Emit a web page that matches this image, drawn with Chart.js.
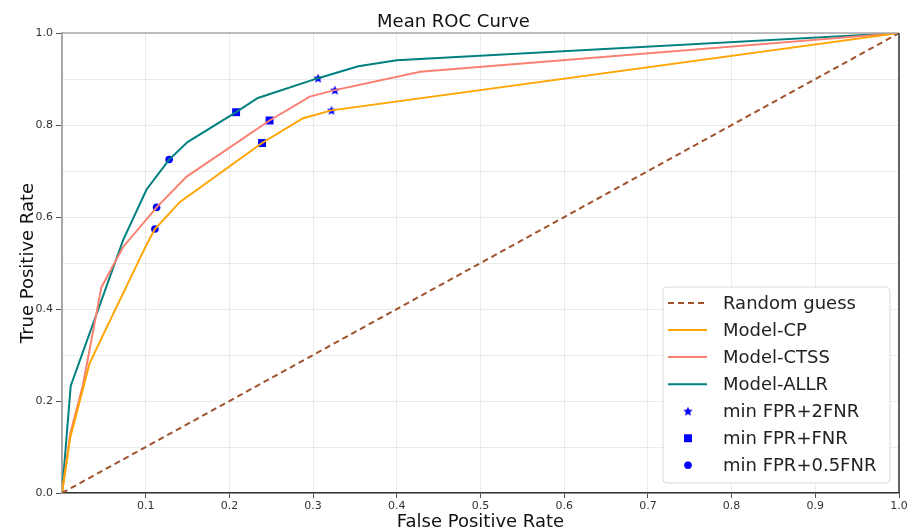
<!DOCTYPE html>
<html>
<head>
<meta charset="utf-8">
<title>Mean ROC Curve</title>
<script src="https://cdn.jsdelivr.net/npm/chart.js@4.4.0/dist/chart.umd.min.js"></script>
<style>
    html, body { margin: 0; padding: 0; background: #fff; }
    #wrap { width: 907px; height: 531px; }
</style>
</head>
<body>
<div id="wrap"><canvas id="roc" width="907" height="531"></canvas></div>
<script>
// ROC curves (false positive rate / true positive rate)
const guessFpr = [0, 1];
const guessTpr = [0, 1];
const cpFpr = [0, 0.01, 0.033, 0.051, 0.101, 0.111, 0.141, 0.239, 0.288, 0.322, 1];
const cpTpr = [0, 0.122, 0.282, 0.351, 0.54, 0.574, 0.633, 0.761, 0.815, 0.832, 1];
const ctssFpr = [0, 0.01, 0.025, 0.047, 0.073, 0.113, 0.149, 0.248, 0.296, 0.326, 0.428, 1];
const ctssTpr = [0, 0.13, 0.235, 0.447, 0.535, 0.621, 0.688, 0.81, 0.862, 0.876, 0.916, 1];
const allrFpr = [0, 0.0104, 0.073, 0.101, 0.128, 0.15, 0.208, 0.234, 0.306, 0.354, 0.4, 1];
const allrTpr = [0, 0.233, 0.55, 0.66, 0.725, 0.763, 0.828, 0.859, 0.902, 0.928, 0.941, 1];

// chosen operating points, order: CP, CTSS, ALLR
const twoFnrFpr = [0.322, 0.326, 0.306];
const twoFnrTpr = [0.832, 0.876, 0.902];
const oneFnrFpr = [0.239, 0.248, 0.208];
const oneFnrTpr = [0.761, 0.81, 0.828];
const halfFnrFpr = [0.111, 0.113, 0.128];
const halfFnrTpr = [0.574, 0.621, 0.725];

// tick labels
const xTickLabels = ['0.1', '0.2', '0.3', '0.4', '0.5', '0.6', '0.7', '0.8', '0.9', '1.0'];
const yTickLabels = ['0.0', '0.2', '0.4', '0.6', '0.8', '1.0'];

const FONT = 'DejaVu Sans';
Chart.defaults.font.family = FONT;
Chart.defaults.color = '#222';

function toPoints(xs, ys) {
    return xs.map((x, i) => ({ x: x, y: ys[i] }));
}

// filled five point star, like matplotlib's '*' marker
function makeStar(size, color) {
    const c = document.createElement('canvas');
    c.width = size;
    c.height = size;
    const g = c.getContext('2d');
    const cx = size / 2, cy = size / 2 + 0.4;
    const outer = size / 2, inner = outer * 0.45;
    g.beginPath();
    for (let i = 0; i < 10; i++) {
        const r = i % 2 ? inner : outer;
        const a = -Math.PI / 2 + i * Math.PI / 5;
        g.lineTo(cx + r * Math.cos(a), cy + r * Math.sin(a));
    }
    g.closePath();
    g.fillStyle = color;
    g.fill();
    return c;
}
const starImg = makeStar(10, '#0000ff');

// top and right spines
const frame = {
    id: 'frame',
    afterDatasetsDraw(chart) {
        const { ctx, chartArea: a } = chart;
        ctx.save();
        ctx.lineWidth = 1.5;
        ctx.strokeStyle = '#a8a8a8';
        ctx.beginPath();
        ctx.moveTo(a.left, a.top);
        ctx.lineTo(a.right, a.top);
        ctx.stroke();
        ctx.strokeStyle = '#333';
        ctx.beginPath();
        ctx.moveTo(a.right, a.top);
        ctx.lineTo(a.right, a.bottom);
        ctx.stroke();
        ctx.restore();
    }
};

// legend box in the lower right corner of the plot
const insideLegend = {
    id: 'insideLegend',
    afterDraw(chart) {
        const { ctx, chartArea: a } = chart;
        const w = 227, h = 196;
        const x0 = a.right - 9 - w, y0 = a.bottom - 10 - h;
        ctx.save();
        ctx.beginPath();
        ctx.roundRect(x0, y0, w, h, 4);
        ctx.fillStyle = 'rgba(255,255,255,0.85)';
        ctx.fill();
        ctx.strokeStyle = '#d9d9d9';
        ctx.lineWidth = 1;
        ctx.stroke();

        chart.data.datasets.forEach((ds, i) => {
            const cy = y0 + 16 + i * 27.05;
            const hx = x0 + 5;
            if (ds.showLine) {
                ctx.beginPath();
                ctx.setLineDash(ds.borderDash || []);
                ctx.strokeStyle = ds.borderColor;
                ctx.lineWidth = ds.borderWidth;
                ctx.moveTo(hx, cy);
                ctx.lineTo(hx + 39, cy);
                ctx.stroke();
                ctx.setLineDash([]);
            } else {
                ctx.fillStyle = ds.backgroundColor;
                Chart.helpers.drawPoint(ctx, {
                    pointStyle: ds.pointStyle,
                    radius: ds.pointRadius,
                    borderWidth: 0,
                    rotation: 0
                }, hx + 20, cy);
            }
            ctx.fillStyle = '#222';
            ctx.font = '18px ' + FONT;
            ctx.textBaseline = 'middle';
            ctx.textAlign = 'left';
            ctx.fillText(ds.label, x0 + 60, cy + 1);
        });
        ctx.restore();
    }
};

const lineSet = (label, xs, ys, color, dash) => ({
    label: label,
    data: toPoints(xs, ys),
    showLine: true,
    borderColor: color,
    backgroundColor: color,
    borderWidth: 2,
    borderDash: dash || [],
    pointRadius: 0,
    pointHoverRadius: 0,
    tension: 0
});

const markSet = (label, xs, ys, style, radius) => ({
    label: label,
    data: toPoints(xs, ys),
    showLine: false,
    pointStyle: style,
    pointRadius: radius,
    pointHoverRadius: radius,
    pointBorderWidth: 0,
    backgroundColor: '#0000ff',
    borderColor: '#0000ff'
});

new Chart(document.getElementById('roc').getContext('2d'), {
    type: 'scatter',
    data: {
        datasets: [
            lineSet('Random guess', guessFpr, guessTpr, '#a0522d', [6, 4]),
            lineSet('Model-CP', cpFpr, cpTpr, '#ffa500'),
            lineSet('Model-CTSS', ctssFpr, ctssTpr, '#fa8072'),
            lineSet('Model-ALLR', allrFpr, allrTpr, '#008080'),
            markSet('min FPR+2FNR', twoFnrFpr, twoFnrTpr, starImg, 5),
            markSet('min FPR+FNR', oneFnrFpr, oneFnrTpr, 'rect', 5.6),
            markSet('min FPR+0.5FNR', halfFnrFpr, halfFnrTpr, 'circle', 3.8)
        ]
    },
    options: {
        responsive: false,
        animation: false,
        devicePixelRatio: 1,
        layout: { padding: { left: 0, right: 0, top: 0, bottom: 0 } },
        plugins: {
            legend: { display: false },
            tooltip: { enabled: false },
            title: {
                display: true,
                text: 'Mean ROC Curve',
                color: '#111',
                font: { size: 18, weight: 'normal' },
                padding: { top: 11.5, bottom: 0 }
            }
        },
        scales: {
            x: {
                type: 'linear',
                min: 0,
                max: 1,
                ticks: {
                    stepSize: 0.1,
                    padding: 2,
                    font: { size: 11 },
                    color: '#333',
                    maxRotation: 0,
                    callback: (v) => xTickLabels.includes(v.toFixed(1)) ? v.toFixed(1) : ''
                },
                grid: {
                    color: 'rgba(0,0,0,0.08)',
                    tickLength: 5,
                    tickColor: (c) => c.tick && c.tick.value > 0 ? '#555' : 'transparent'
                },
                border: { color: '#333', width: 1.5 },
                title: {
                    display: true,
                    text: 'False Positive Rate',
                    color: '#111',
                    font: { size: 18, lineHeight: 1 },
                    padding: { top: 0, bottom: 0 }
                },
                afterFit: (s) => {
                    s.height = 38;
                    s.paddingRight = 8;
                }
            },
            y: {
                type: 'linear',
                min: 0,
                max: 1,
                ticks: {
                    stepSize: 0.1,
                    padding: 3,
                    font: { size: 11 },
                    color: '#333',
                    callback: (v) => yTickLabels.includes(v.toFixed(1)) ? v.toFixed(1) : ''
                },
                grid: {
                    color: 'rgba(0,0,0,0.08)',
                    tickLength: 6,
                    tickColor: (c) => c.tick && yTickLabels.includes(c.tick.value.toFixed(1)) ? '#555' : 'transparent'
                },
                border: { color: '#a8a8a8', width: 2 },
                title: {
                    display: true,
                    text: 'True Positive Rate',
                    color: '#111',
                    font: { size: 18 },
                    padding: { top: 18, bottom: 0 }
                },
                afterFit: (s) => { s.width = 62; }
            }
        }
    },
    plugins: [frame, insideLegend]
});
</script>
</body>
</html>
